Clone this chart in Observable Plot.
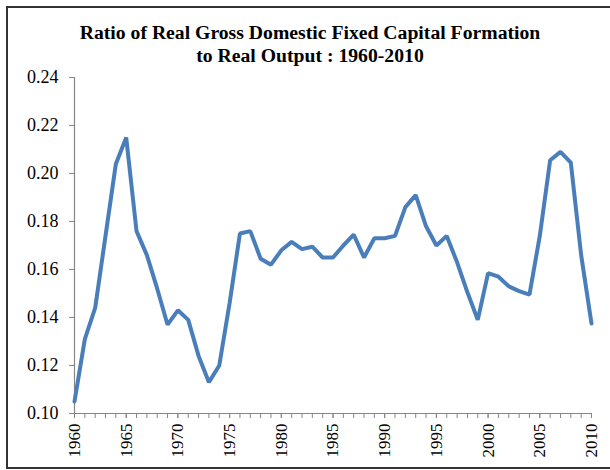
<!DOCTYPE html>
<html>
<head>
<meta charset="utf-8">
<script src="https://cdn.jsdelivr.net/npm/d3@7"></script>
<script src="https://cdn.jsdelivr.net/npm/@observablehq/plot@0.6"></script>
<style>
  html, body { margin: 0; padding: 0; background: #fff; }
  #wrap { position: relative; width: 610px; height: 470px; overflow: hidden; }
  #border { position: absolute; left: 6px; top: 6px; width: 620px; height: 463px; border: 2px solid #333; box-sizing: border-box; }
  #title { position: absolute; left: 0; top: 21px; width: 620px; text-align: center;
           font-family: "Liberation Serif", serif; font-weight: bold; font-size: 19.7px; line-height: 23px; color: #000; }
  #chart { position: absolute; left: 0; top: 0; }
  #chart svg, #chart svg g, #chart svg text { font-family: "Liberation Serif", "Times New Roman", serif !important; }
</style>
</head>
<body>
<div id="wrap">
  <div id="border"></div>
  <div id="chart"></div>
  <div id="title">Ratio of Real Gross Domestic Fixed Capital Formation<br>to Real Output : 1960-2010</div>
</div>
<script>
const years = [1960,1961,1962,1963,1964,1965,1966,1967,1968,1969,
               1970,1971,1972,1973,1974,1975,1976,1977,1978,1979,
               1980,1981,1982,1983,1984,1985,1986,1987,1988,1989,
               1990,1991,1992,1993,1994,1995,1996,1997,1998,1999,
               2000,2001,2002,2003,2004,2005,2006,2007,2008,2009,2010];
const ratio = [0.105,0.131,0.144,0.174,0.204,0.215,0.176,0.166,0.152,0.137,
               0.143,0.139,0.124,0.113,0.120,0.146,0.175,0.176,0.1645,0.162,
               0.168,0.1715,0.1685,0.1695,0.165,0.165,0.170,0.1745,0.165,0.173,
               0.173,0.174,0.186,0.191,0.178,0.170,0.174,0.163,0.1505,0.139,
               0.1585,0.157,0.153,0.151,0.1495,0.174,0.2055,0.209,0.2045,0.166,0.1375];
const yTicks = [0.10,0.12,0.14,0.16,0.18,0.20,0.22,0.24];
const xLabelTicks = [1960,1965,1970,1975,1980,1985,1990,1995,2000,2005,2010];

const data = years.map((y, i) => ({year: y, value: ratio[i]}));
const font = "Liberation Serif";

const chart = Plot.plot({
  width: 610,
  height: 470,
  marginLeft: 74,
  marginRight: 19,
  marginTop: 77,
  marginBottom: 57,
  style: {fontFamily: font, fontSize: "18px", color: "#000", background: "transparent"},
  x: {domain: [1960, 2010]},
  y: {domain: [0.10, 0.24]},
  marks: [
    Plot.axisY({ticks: yTicks, tickFormat: d3.format(".2f"), tickSize: 5, tickPadding: 11, stroke: "#868686", fill: "#000", fontFamily: font, fontSize: 18, label: null}),
    Plot.ruleX([1960], {stroke: "#868686", strokeWidth: 1.2}),
    Plot.axisX({ticks: years, tickFormat: () => "", tickSize: 5, stroke: "#868686", label: null}),
    Plot.axisX({ticks: xLabelTicks, tickFormat: d => String(d), tickSize: 5, tickPadding: 5, tickRotate: -90, stroke: "#868686", fill: "#000", fontFamily: font, fontSize: 17, label: null}),
    Plot.ruleY([0.10], {stroke: "#868686", strokeWidth: 1.2}),
    Plot.line(data, {x: "year", y: "value", stroke: "#4a7ebb", strokeWidth: 4, strokeLinejoin: "miter"})
  ]
});
d3.select(chart).selectAll("text")
  .attr("font-family", "Liberation Serif, Times New Roman, serif")
  .style("font-family", "'Liberation Serif', 'Times New Roman', serif");
document.getElementById("chart").appendChild(chart);
</script>
</body>
</html>
